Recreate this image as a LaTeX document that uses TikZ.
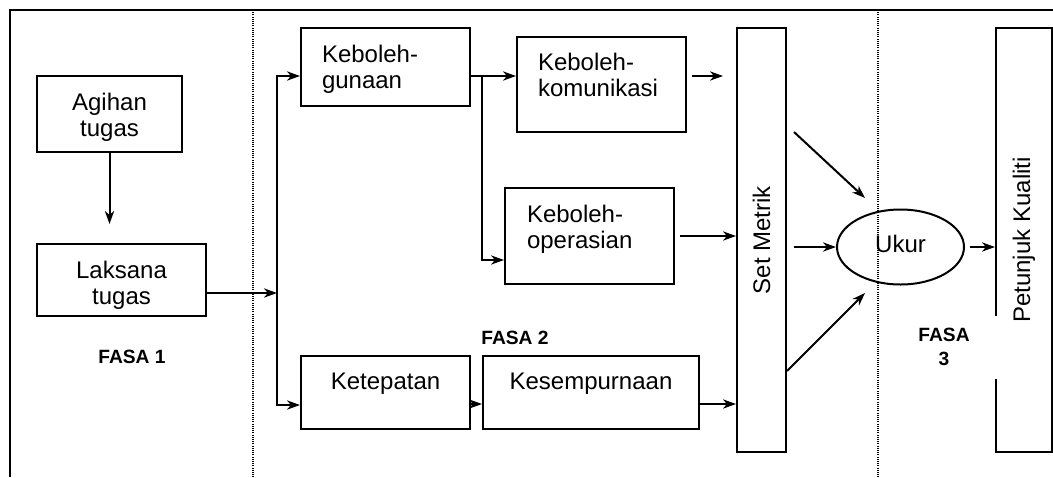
\documentclass[tikz,border=0pt]{standalone}
\usepackage{fontspec}
\setmainfont{Liberation Sans}
\usetikzlibrary{arrows.meta,calc,shapes.geometric}

\begin{document}
\begin{tikzpicture}[
  x=0.5pt, y=-0.5pt,
  task box/.style={draw, line width=1pt, inner sep=0pt,
    font=\fontsize{12}{13}\selectfont},
  lift text/.style={text height=0pt, text depth=#1},
  phase label/.style={font=\fontsize{9.6}{12}\selectfont\bfseries,
    align=center, inner sep=0pt},
  flow/.style={line width=1pt, -{Stealth[length=6.5pt,width=4.6pt,inset=2pt]}},
  phase line/.style={line width=0.55pt, dash pattern=on 0.5pt off 0.6pt},
  ]
  \useasboundingbox (0,0) rectangle (1053,477);
  % frame and phase borders
  \draw[line width=1pt] (10,477) -- (10,10) -- (1053,10);
  \draw[phase line] (253,10) -- (253,477);
  \draw[phase line] (878,10) -- (878,477);

  % fasa 1
  \node[task box, text width=72.5pt, align=center, minimum width=72.5pt, minimum height=38pt, lift text=4pt] (ag) at (109.5,114) {Agihan\\tugas};
  \node[task box, text width=84.5pt, align=center, minimum width=84.5pt, minimum height=36pt, lift text=2pt] (ls) at (121.5,280) {Laksana\\tugas};
  \node[phase label] (f1) at (132,356.5) {FASA 1};

  % fasa 2
  \node[task box, text width=63.5pt, align=left, minimum width=84.5pt, minimum height=39pt, lift text=5pt] (kg) at (385.5,67) {Keboleh-\\gunaan};
  \node[task box, text width=63.5pt, align=left, minimum width=84.5pt, minimum height=47.5pt, lift text=14.5pt] (kk) at (601.5,84.5) {Keboleh-\\komunikasi};
  \node[task box, text width=62.5pt, align=left, minimum width=84.5pt, minimum height=48pt, lift text=14pt] (ko) at (589.5,236) {Keboleh-\\operasian};
  \node[task box, minimum width=84.5pt, minimum height=36.5pt, lift text=3.5pt] (kt) at (385.5,392.5) {Ketepatan};
  \node[task box, minimum width=108pt, minimum height=36.5pt, lift text=3.5pt] (ks) at (591,392.5) {Kesempurnaan};
  \node[phase label] (f2) at (515,337.5) {FASA 2};
  \node[task box, minimum width=24.5pt, minimum height=212pt] (sm) at (761.5,240) {\rotatebox{90}{Set Metrik}};

  % fasa 3
  \node[task box, ellipse, minimum width=63.5pt, minimum height=37.5pt, text depth=3.5pt] (uk) at (900.5,247) {Ukur};
  \node[task box, minimum width=28pt, minimum height=212pt] (pk) at (1024,240) {\rotatebox{90}{Petunjuk Kualiti}};
  \node[phase label, fill=white, minimum width=54pt, minimum height=31.5pt] (f3) at (944,347) {FASA\\3};

  % connectors
  \draw[flow, shorten >=9.5pt] (ag.south) -- (ag.south |- ls.north);
  \coordinate (fork) at (277,293);
  \draw[flow] (ls.east |- fork) -- (fork);
  \draw[flow] (fork) |- ($(kg.west)+(0,9)$);
  \draw[flow] (fork) |- ($(kt.west)+(0,12.5)$);
  \coordinate (kgout) at ($(kg.east)+(0,9)$);
  \draw[flow] (kgout) -- (kgout -| kk.west);
  \draw[flow] ($(kgout)+(11,0)$) |- ($(ko.west)+(0,24)$);
  \draw[flow, shorten <=2.5pt, shorten >=6.5pt] (kgout -| kk.east) -- (kgout -| sm.west);
  \draw[flow, shorten <=2.5pt] (ko.east) -- (ko.east -| sm.west);
  \coordinate (low) at ($(kt.east)+(0,11.5)$);
  \draw[flow] (low) -- (low -| ks.west);
  \draw[flow] (low -| ks.east) -- (low -| sm.west);
  \draw[flow] ($(sm.east)+(7,-108)$) -- ($(uk.center)+(-35.5,-49)$);
  \draw[flow, shorten <=3.5pt] (uk.west -| sm.east) -- (uk.west);
  \draw[flow] ($(sm.east)+(0,131)$) -- ($(uk.center)+(-35.5,46)$);
  \draw[flow, shorten <=2.5pt] (uk.east) -- (uk.east -| pk.west);
\end{tikzpicture}
\end{document}
